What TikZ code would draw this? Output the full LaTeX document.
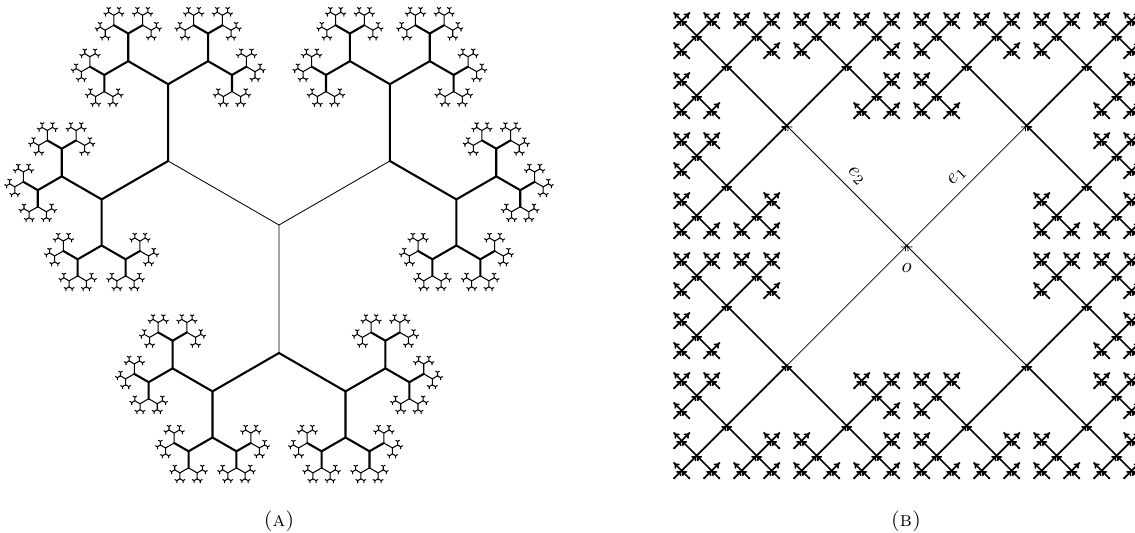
\documentclass[tikz,border=0pt]{standalone}
\usetikzlibrary{arrows.meta,positioning}

\newcommand\depthA{9}
\newcommand\rootA{128}
\newcommand\ratioA{0.6}
\newcommand\depthB{5}
\newcommand\rootB{169.7}

% trivalent tree: node #1, reached with heading #2, next edges at level #3
\def\growA#1#2#3{%
  \ifnum#3<\depthA\relax
    \pgfmathsetmacro\lenA{\rootA*\ratioA^#3}%
    \pgfmathsetmacro\lftA{#2+60}%
    \pgfmathsetmacro\rgtA{#2-60}%
    \pgfmathtruncatemacro\nxtA{#3+1}%
    \path (#1) ++(\lftA:\lenA) coordinate (#1l) (#1) ++(\rgtA:\lenA) coordinate (#1r);
    \draw[limb=#3] (#1) -- (#1l) (#1) -- (#1r);
    \edef\doA{\noexpand\growA{#1l}{\lftA}{\nxtA}\noexpand\growA{#1r}{\rgtA}{\nxtA}}%
    \doA
  \fi}

% one generator edge of the free group tree, from #1 to new node #2
\def\stemB#1#2#3#4{%
  \pgfmathsetmacro\lenB{\rootB*0.5^#4}%
  \path (#1) ++(#3:\lenB) coordinate (#2);
  \fill (#2) circle (.6pt);
  \ifnum#3<180 \draw[gen=#4] (#1) -- (#2);\else \draw[gen=#4] (#2) -- (#1);\fi
  \pgfmathtruncatemacro\nxtB{#4+1}%
  \ifnum\nxtB<\depthB\relax
    \edef\doB{\noexpand\growB{#2}{#3}{\nxtB}}\doB
  \fi}
\def\growB#1#2#3{%
  \pgfmathtruncatemacro\rgtB{mod(#2+270,360)}%
  \pgfmathtruncatemacro\lftB{mod(#2+90,360)}%
  \edef\doB{\noexpand\stemB{#1}{#1r}{\rgtB}{#3}\noexpand\stemB{#1}{#1s}{#2}{#3}\noexpand\stemB{#1}{#1l}{\lftB}{#3}}%
  \doB}

\begin{document}
\begin{tikzpicture}[x=0.48pt,y=0.48pt,line cap=round,
    limb/.code={\ifnum#1=0 \pgfkeysalso{line width=.4pt}\else\ifnum#1<5 \pgfkeysalso{line width=1pt}\else\pgfkeysalso{line width=.5pt}\fi\fi},
    gen/.code={\pgfkeysalso{-{To[length=2.4pt,width=3.2pt]}}\ifnum#1=0 \pgfkeysalso{line width=.4pt}\else\pgfkeysalso{line width=.8pt}\fi}]
  \useasboundingbox (0,0) rectangle (1135,533);
  \clip (0,0) rectangle (1135,533);

  % (A) trivalent tree
  \coordinate (A) at (279,308);
  \path (A) ++(150:\rootA) coordinate (Ap) (A) ++(30:\rootA) coordinate (Aq) (A) ++(270:\rootA) coordinate (As);
  \draw[limb=0] (A) -- (Ap) (A) -- (Aq) (A) -- (As);
  \growA{Ap}{150}{1}
  \growA{Aq}{30}{1}
  \growA{As}{270}{1}
  \node (capA) at (279,12) {\textsc{(a)}};

  % (B) Cayley tree of the free group
  \coordinate (o) at (906.7,287.3);
  \fill (o) circle (.6pt);
  \stemB{o}{oa}{45}{0}
  \stemB{o}{ob}{135}{0}
  \stemB{o}{oc}{225}{0}
  \stemB{o}{od}{315}{0}
  \path (o) -- (oa) node[midway,above,sloped] (eone) {$e_1$};
  \path (ob) -- (o) node[midway,above,sloped] (etwo) {$e_2$};
  \node[below=5pt of o] (olab) {$o$};
  \node (capB) at (906,12) {\textsc{(b)}};
\end{tikzpicture}
\end{document}
